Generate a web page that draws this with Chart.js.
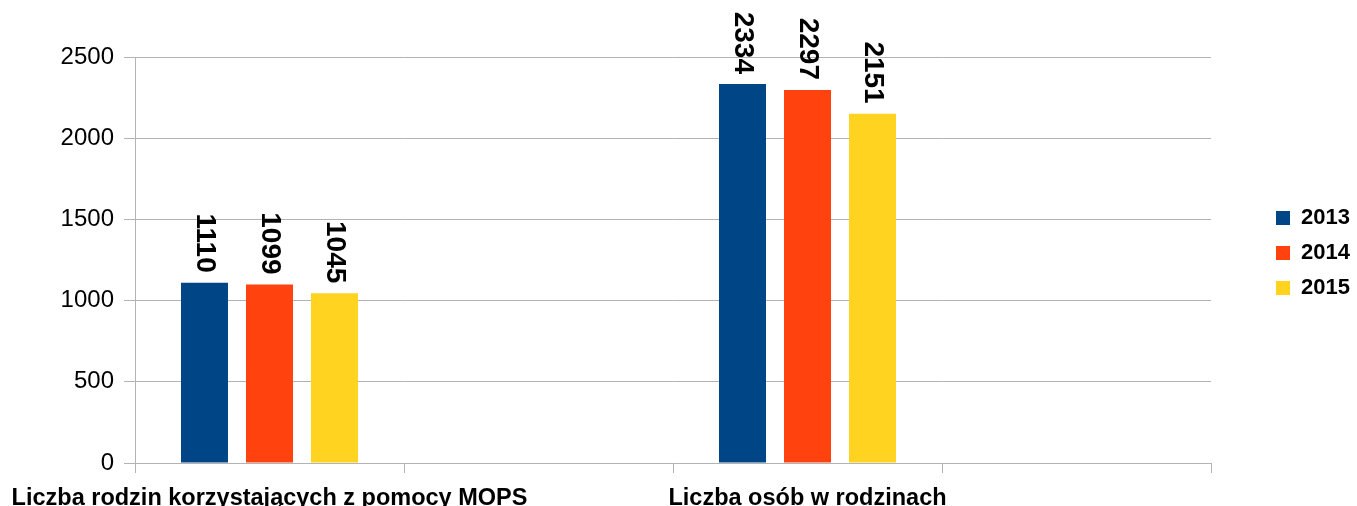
<!DOCTYPE html>
<html>
<head>
<meta charset="utf-8">
<script src="https://cdn.jsdelivr.net/npm/chart.js@4/dist/chart.umd.min.js"></script>
<style>
html,body{margin:0;padding:0;background:#fff;}
#wrap{position:relative;width:1357px;height:506px;}
</style>
</head>
<body>
<div id="wrap"><canvas id="c" width="1357" height="506"></canvas></div>
<script>
const categories = ['Liczba rodzin korzystających z pomocy MOPS', '', 'Liczba osób w rodzinach', ''];
const seriesNames = ['2013', '2014', '2015'];
const values2013 = [1110, null, 2334, null];
const values2014 = [1099, null, 2297, null];
const values2015 = [1045, null, 2151, null];
const colors = ['#004586', '#ff420e', '#ffd320'];
const yTicks = [0, 500, 1000, 1500, 2000, 2500];

const FONT = "'Liberation Sans', Arial, sans-serif";
const GRID = '#b3b3b3';

const dataLabelPlugin = {
  id: 'rotLabels',
  afterDatasetsDraw(chart) {
    const ctx = chart.ctx;
    ctx.save();
    ctx.fillStyle = '#000';
    ctx.font = "bold 28px " + FONT;
    chart.data.datasets.forEach((ds, di) => {
      const meta = chart.getDatasetMeta(di);
      meta.data.forEach((bar, i) => {
        const v = ds.data[i];
        if (v === null || v === undefined) return;
        ctx.save();
        ctx.translate(bar.x, bar.y - 10);
        ctx.rotate(Math.PI / 2);
        ctx.textAlign = 'right';
        ctx.textBaseline = 'middle';
        ctx.fillText(String(v), 0, 0);
        ctx.restore();
      });
    });
    ctx.restore();
  }
};

const legendPlace = {
  id: 'legendPlace',
  beforeLayout(chart) {
    const lg = chart.legend;
    if (lg && !lg._patched) {
      const orig = lg.fit;
      lg.fit = function () { orig.call(this); this.width = 146; };
      lg._patched = true;
    }
  },
  afterLayout(chart) {
    const lg = chart.legend;
    if (!lg) return;
    lg.left = 1263; lg.right = 1357;
    lg.top = 0; lg.bottom = 506;
  }
};

new Chart(document.getElementById('c'), {
  type: 'bar',
  data: {
    labels: categories,
    datasets: [
      { label: seriesNames[0], data: values2013, backgroundColor: colors[0], borderWidth: 0 },
      { label: seriesNames[1], data: values2014, backgroundColor: colors[1], borderWidth: 0 },
      { label: seriesNames[2], data: values2015, backgroundColor: colors[2], borderWidth: 0 }
    ]
  },
  options: {
    responsive: false,
    animation: false,
    events: [],
    layout: { padding: { top: 57, left: 0, right: 0, bottom: 0 } },
    datasets: { bar: { categoryPercentage: 0.725, barPercentage: 0.723 } },
    plugins: {
      legend: {
        position: 'right',
        labels: {
          boxWidth: 14, boxHeight: 14, padding: 13, color: '#000',
          font: { family: FONT, size: 22, weight: 'bold' }
        }
      },
      tooltip: { enabled: false },
      title: { display: false }
    },
    scales: {
      x: {
        offset: true,
        grid: { offset: true, drawOnChartArea: false, drawTicks: true, tickLength: 10, color: GRID, lineWidth: 1 },
        border: { display: true, color: GRID, width: 1 },
        ticks: {
          autoSkip: false, maxRotation: 0, minRotation: 0, padding: 11, color: '#000',
          font: { family: FONT, size: 23.5, weight: 'bold' }
        },
        afterFit(scale) { scale.height = 43; scale.paddingLeft = 0; scale.paddingRight = 0; }
      },
      y: {
        min: 0, max: 2500,
        afterBuildTicks(scale) { scale.ticks = yTicks.map(v => ({ value: v })); },
        grid: { color: GRID, lineWidth: 1, drawTicks: true, tickLength: 11 },
        border: { display: true, color: GRID, width: 1 },
        ticks: {
          padding: 10, color: '#000',
          font: { family: FONT, size: 24 },
          callback: (v) => String(v)
        },
        afterFit(scale) { scale.width = 135; scale.paddingTop = 0; scale.paddingBottom = 0; }
      }
    }
  },
  plugins: [dataLabelPlugin, legendPlace]
});
</script>
</body>
</html>
